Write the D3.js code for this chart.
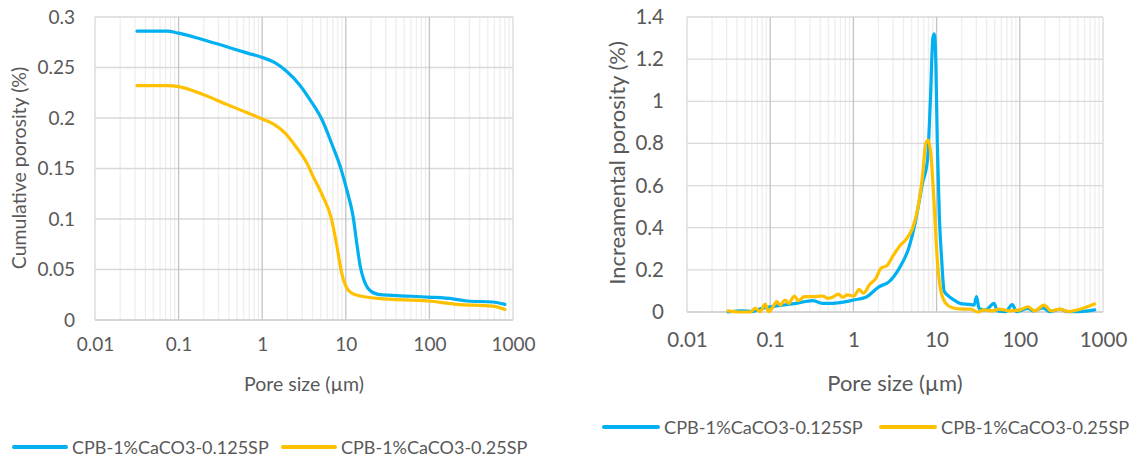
<!DOCTYPE html>
<html><head><meta charset="utf-8">
<script src="https://cdn.jsdelivr.net/npm/d3@7"></script>
<style>
html,body{margin:0;padding:0;background:#fff;}
svg{display:block;font-family:Lato, "Open Sans", sans-serif;}
</style></head>
<body>
<svg id="c" width="1137" height="461"></svg>
<script>
// ---------- DATA ----------
const seriesNames = ["CPB-1%CaCO3-0.125SP", "CPB-1%CaCO3-0.25SP"];
const xTickLabels = ["0.01", "0.1", "1", "10", "100", "1000"];
const xTickValues = [0.01, 0.1, 1, 10, 100, 1000];
const leftYTicks = [0, 0.05, 0.1, 0.15, 0.2, 0.25, 0.3];
const leftYTickLabels = ["0", "0.05", "0.1", "0.15", "0.2", "0.25", "0.3"];
const rightYTicks = [0, 0.2, 0.4, 0.6, 0.8, 1, 1.2, 1.4];
const rightYTickLabels = ["0", "0.2", "0.4", "0.6", "0.8", "1", "1.2", "1.4"];

// cumulative porosity (%)
const cumSize125 = [0.0318,0.0724,0.1,0.18,0.376,0.653,1,1.40,1.97,2.79,3.74,5.28,6.76,8.65,10.5,12.2,13.5,14.9,16.4,19.0,24.3,36.1,96.6,192,285,569,800];
const cumPor125  = [0.286,0.286,0.284,0.2785,0.2705,0.2645,0.260,0.255,0.246,0.233,0.218,0.197,0.175,0.151,0.126,0.103,0.0765,0.053,0.040,0.030,0.0254,0.0244,0.0227,0.021,0.0188,0.0178,0.0155];
const cumSize25  = [0.0318,0.0724,0.1,0.18,0.376,0.653,1,1.40,1.88,2.51,3.39,4.13,5.28,6.76,7.83,8.91,10,11.6,14.9,24.3,96.6,214,569,800];
const cumPor25   = [0.232,0.232,0.231,0.2245,0.2135,0.2055,0.199,0.1935,0.185,0.172,0.156,0.141,0.123,0.0996,0.073,0.047,0.0336,0.027,0.0237,0.0214,0.0188,0.0155,0.0138,0.0105];

// incremental porosity (%)
const incSize125 = [0.0312,0.0457,0.0603,0.0794,0.126,0.204,0.324,0.427,0.562,0.813,1,1.41,2.04,2.69,3.55,4.68,5.62,6.76,7.76,8.41,9.02,9.38,9.77,10.2,10.8,11.5,12.3,13.5,15.8,19.5,24.5,28.2,30.2,32.4,38.9,49.0,53.7,67.6,81.3,91.2,126,145,191,229,302,380,525,794];
const incPor125  = [0,0.006,0.002,0.017,0.030,0.041,0.054,0.041,0.041,0.049,0.057,0.070,0.12,0.144,0.207,0.31,0.437,0.61,0.72,1.0,1.30,1.32,1.2,0.80,0.45,0.25,0.10,0.08,0.06,0.04,0.036,0.033,0.073,0.017,0.01,0.041,0.005,0.002,0.035,0.002,0.017,0.005,0.020,0.002,0.013,0.002,0.002,0.010];
const incSize25  = [0.0312,0.0417,0.0575,0.0661,0.0759,0.0871,0.0955,0.105,0.120,0.132,0.151,0.166,0.195,0.219,0.257,0.324,0.427,0.490,0.562,0.661,0.741,0.851,1.02,1.17,1.32,1.55,1.86,2.14,2.57,2.95,3.55,4.47,5.13,5.89,6.76,7.41,7.94,8.51,9.33,10.2,11.2,12.9,15.5,20.4,25.7,30.9,37.2,46.8,56.2,75.9,100,126,151,195,240,302,380,525,794];
const incPor25   = [0.005,0,0,0.017,0.002,0.038,0.002,0.017,0.049,0.033,0.057,0.041,0.076,0.054,0.073,0.073,0.076,0.065,0.07,0.085,0.07,0.081,0.076,0.108,0.089,0.128,0.16,0.207,0.223,0.263,0.31,0.354,0.397,0.484,0.642,0.80,0.816,0.753,0.516,0.247,0.104,0.041,0.02,0.014,0.014,0,0.01,0.005,0.014,0.005,0.01,0.025,0.005,0.033,0.005,0.014,0.002,0.013,0.038];

const colors = ["#00B0F0", "#FFC000"];
const textColor = "#595959";

const svg = d3.select("#c");

function drawChart(cfg) {
  const g = svg.append("g");
  const x = d3.scaleLog().domain([0.01, 1000]).range([cfg.x0, cfg.x1]);
  const y = d3.scaleLinear().domain([0, cfg.yMax]).range([cfg.y1, cfg.y0]);

  // minor vertical gridlines
  const minors = [];
  for (let e = -2; e < 3; e++) for (let m = 2; m <= 9; m++) minors.push(m * Math.pow(10, e));
  g.selectAll(".minor").data(minors).enter().append("line")
    .attr("x1", d => x(d)).attr("x2", d => x(d))
    .attr("y1", cfg.y0).attr("y2", cfg.y1)
    .attr("stroke", "#eeeeee").attr("stroke-width", 1.3);
  // horizontal major gridlines
  g.selectAll(".hgrid").data(cfg.yTicks).enter().append("line")
    .attr("x1", cfg.x0).attr("x2", cfg.x1)
    .attr("y1", d => y(d)).attr("y2", d => y(d))
    .attr("stroke", "#d9d9d9").attr("stroke-width", 1.3);
  // vertical major gridlines
  g.selectAll(".vgrid").data(xTickValues).enter().append("line")
    .attr("x1", d => x(d)).attr("x2", d => x(d))
    .attr("y1", cfg.y0).attr("y2", cfg.y1)
    .attr("stroke", (d, i) => (i === 0 || i === xTickValues.length - 1) ? "#d9d9d9" : "#c4c4c4")
    .attr("stroke-width", 1.3);
  // bottom axis line
  g.append("line").attr("x1", cfg.x0).attr("x2", cfg.x1)
    .attr("y1", cfg.y1).attr("y2", cfg.y1)
    .attr("stroke", "#d0d0d0").attr("stroke-width", 1.5);

  // axes labels via d3 axes
  const xAxis = d3.axisBottom(x).tickValues(xTickValues)
    .tickFormat((d, i) => xTickLabels[i]).tickSize(0).tickPadding(cfg.xTickPad);
  const xa = g.append("g").attr("transform", `translate(0,${cfg.y1})`).call(xAxis);
  xa.select(".domain").remove();
  xa.selectAll("text").attr("fill", textColor).style("font-size", cfg.tickFont + "px").style("font-family", "Lato");

  const yAxis = d3.axisLeft(y).tickValues(cfg.yTicks)
    .tickFormat((d, i) => cfg.yTickLabels[i]).tickSize(0).tickPadding(cfg.yTickPad);
  const ya = g.append("g").attr("transform", `translate(${cfg.x0},0)`).call(yAxis);
  ya.select(".domain").remove();
  ya.selectAll("text").attr("fill", textColor).style("font-size", cfg.tickFont + "px").style("font-family", "Lato");

  // axis titles
  g.append("text").attr("x", (cfg.x0 + cfg.x1) / 2).attr("y", cfg.xTitleY)
    .attr("text-anchor", "middle").attr("dominant-baseline", "central")
    .attr("fill", textColor).style("font-size", cfg.titleFont + "px").text("Pore size (µm)");
  g.append("text").attr("transform", `translate(${cfg.yTitleX},${cfg.yTitleY}) rotate(-90)`)
    .attr("text-anchor", "middle").attr("dominant-baseline", "central")
    .attr("fill", textColor).style("font-size", cfg.titleFont + "px").text(cfg.yTitle);

  // series
  const line = d3.line().x(d => x(d[0])).y(d => y(d[1])).curve(d3.curveMonotoneX);
  cfg.series.forEach((s, i) => {
    const pts = s.sizes.map((v, k) => [v, s.values[k]]);
    g.append("path").datum(pts).attr("d", line)
      .attr("fill", "none").attr("stroke", colors[i]).attr("stroke-width", 3.2)
      .attr("stroke-linejoin", "round").attr("stroke-linecap", "round");
  });

  // legend
  cfg.legend.forEach((L, i) => {
    g.append("line").attr("x1", L.lx).attr("x2", L.lx + cfg.legendLen)
      .attr("y1", cfg.legendY).attr("y2", cfg.legendY)
      .attr("stroke", colors[i]).attr("stroke-width", 4).attr("stroke-linecap", "round");
    g.append("text").attr("x", L.lx + cfg.legendLen + 6).attr("y", cfg.legendY)
      .attr("dominant-baseline", "central").attr("fill", textColor)
      .style("font-size", cfg.legendFont + "px").text(seriesNames[i]);
  });
}

drawChart({
  x0: 95, x1: 513, y0: 17, y1: 320, yMax: 0.3,
  yTicks: leftYTicks, yTickLabels: leftYTickLabels,
  tickFont: 19, titleFont: 19.5, legendFont: 18,
  xTickPad: 18, yTickPad: 20,
  xTitleY: 383, yTitleX: 18, yTitleY: 168,
  yTitle: "Cumulative porosity (%)",
  series: [{sizes: cumSize125, values: cumPor125}, {sizes: cumSize25, values: cumPor25}],
  legendY: 447, legendLen: 52, legend: [{lx: 14}, {lx: 283}]
});

drawChart({
  x0: 687, x1: 1103, y0: 17, y1: 312, yMax: 1.4,
  yTicks: rightYTicks, yTickLabels: rightYTickLabels,
  tickFont: 20.5, titleFont: 22, legendFont: 18.2,
  xTickPad: 20, yTickPad: 23,
  xTitleY: 382, yTitleX: 616, yTitleY: 163,
  yTitle: "Increamental porosity (%)",
  series: [{sizes: incSize125, values: incPor125}, {sizes: incSize25, values: incPor25}],
  legendY: 427, legendLen: 54, legend: [{lx: 604}, {lx: 881}]
});
</script>
</body></html>
